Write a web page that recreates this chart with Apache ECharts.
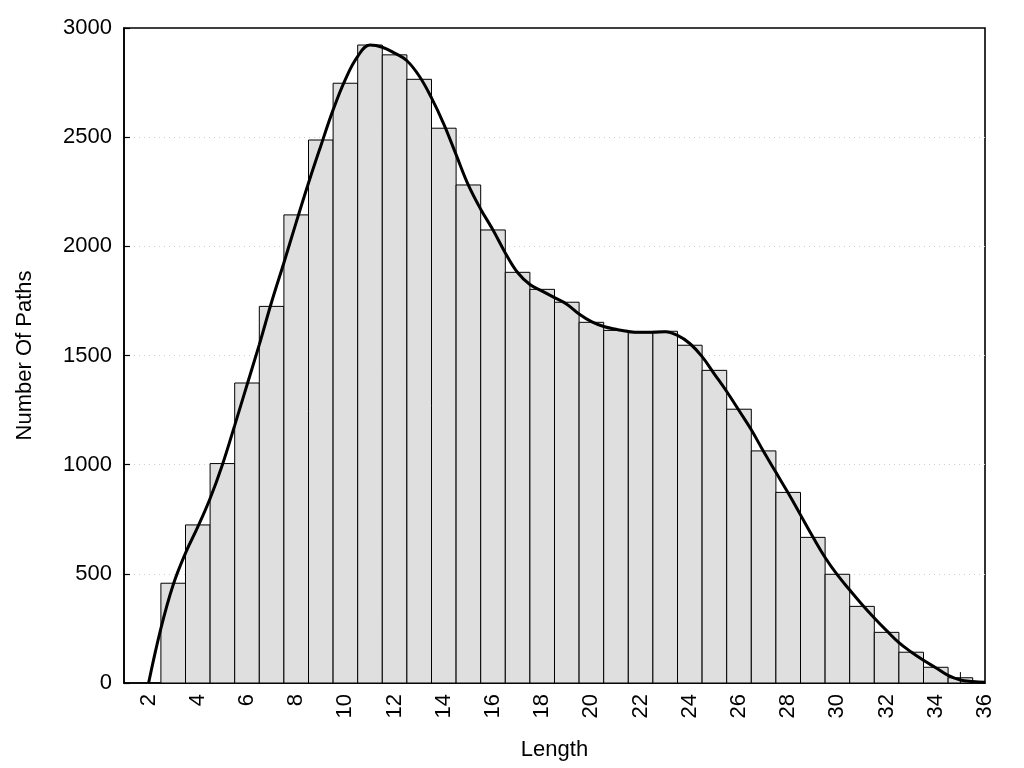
<!DOCTYPE html>
<html>
<head>
<meta charset="utf-8">
<script src="https://cdn.jsdelivr.net/npm/echarts@6/dist/echarts.min.js"></script>
<style>
html,body{margin:0;padding:0;background:#fff;}
#chart{width:1024px;height:768px;}
</style>
</head>
<body>
<div id="chart"></div>
<script>
// Histogram bins (path length) and counts
const lengths = [3,4,5,6,7,8,9,10,11,12,13,14,15,16,17,18,19,20,21,22,23,24,25,26,27,28,29,30,31,32,33,34,35];
const counts  = [457,724,1005,1374,1725,2144,2487,2747,2922,2877,2765,2541,2281,2075,1881,1803,1744,1652,1615,1604,1611,1547,1432,1254,1063,873,667,498,351,232,141,72,24];

// Smoothed density curve
const curveX = [2,2.5,3,3.5,4,4.5,5,5.5,6,6.5,7,7.5,8,8.5,9,9.5,10,10.5,11,11.5,12,12.5,13,13.5,14,14.5,15,15.5,16,16.5,17,17.5,18,18.5,19,19.5,20,20.5,21,21.5,22,22.5,23,23.5,24,24.5,25,25.5,26,26.5,27,27.5,28,28.5,29,29.5,30,30.5,31,31.5,32,32.5,33,33.5,34,34.5,35,35.5,36];
const curveY = [0,250,450,595,715,845,1000,1180,1365,1550,1745,1925,2110,2290,2460,2625,2765,2870,2922,2912,2885,2850,2780,2680,2560,2420,2280,2170,2075,1970,1880,1825,1795,1765,1735,1690,1655,1633,1620,1610,1606,1606,1609,1592,1555,1495,1415,1335,1248,1160,1060,965,870,770,670,575,495,426,360,298,240,185,142,104,70,35,14,7,3];

// Short vertical segment near the last bin
const markX = [35, 35];
const markY = [0, 50];

// Axis ticks
const xTicks = [2,4,6,8,10,12,14,16,18,20,22,24,26,28,30,32,34,36];
const yMin = 0, yMax = 3000, yStep = 500;
const xMin = 1, xMax = 36;

const FONT = '"Liberation Sans", Arial, sans-serif';

const chart = echarts.init(document.getElementById('chart'), null, {renderer:'canvas'});

const barData = lengths.map((x, i) => [x, counts[i]]);
const lineData = curveX.map((x, i) => [x, curveY[i]]);
const segData = markX.map((x, i) => [x, markY[i]]);

chart.setOption({
  animation: false,
  backgroundColor: '#fff',
  grid: {
    left: 124, right: 39, top: 28, bottom: 85,
    show: true, borderColor: '#000', borderWidth: 1.6, backgroundColor: 'transparent'
  },
  xAxis: {
    type: 'value', min: xMin, max: xMax,
    name: 'Length', nameLocation: 'middle', nameGap: 56,
    nameTextStyle: { fontFamily: FONT, fontSize: 22, color: '#000' },
    axisLine: { show: true, lineStyle: { color: '#000', width: 1.6 } },
    axisTick: { show: false, customValues: xTicks },
    splitLine: { show: false },
    axisLabel: {
      customValues: xTicks, rotate: 90, margin: 11,
      fontFamily: FONT, fontSize: 22, color: '#000'
    }
  },
  yAxis: {
    type: 'value', min: yMin, max: yMax, interval: yStep,
    name: 'Number Of Paths', nameLocation: 'middle', nameGap: 88, nameRotate: 90,
    nameTextStyle: { fontFamily: FONT, fontSize: 22, color: '#000' },
    axisLine: { show: true, lineStyle: { color: '#000', width: 1.6 } },
    axisTick: { show: true, inside: true, length: 6, lineStyle: { color: '#000', width: 1.2 } },
    splitLine: { show: true, showMinLine: false, showMaxLine: false, lineStyle: { color: '#cfcfcf', type: [1, 4], width: 1 } },
    axisLabel: { margin: 12, fontFamily: FONT, fontSize: 22, color: '#000', formatter: v => String(v) }
  },
  series: [
    {
      type: 'custom',
      data: barData,
      encode: { x: 0, y: 1 },
      renderItem: function (params, api) {
        const x = api.value(0), y = api.value(1);
        const p0 = api.coord([x - 0.5, y]);
        const p1 = api.coord([x + 0.5, 0]);
        return {
          type: 'rect',
          shape: { x: p0[0], y: p0[1], width: p1[0] - p0[0], height: p1[1] - p0[1] },
          style: { fill: '#dfdfdf', stroke: '#000', lineWidth: 1 }
        };
      },
      z: 2
    },
    {
      type: 'line', data: segData, showSymbol: false,
      lineStyle: { color: '#000', width: 1 }, z: 3
    },
    {
      type: 'line', data: lineData, smooth: 0.4, showSymbol: false,
      lineStyle: { color: '#000', width: 3 }, z: 4
    }
  ]
});
</script>
</body>
</html>
